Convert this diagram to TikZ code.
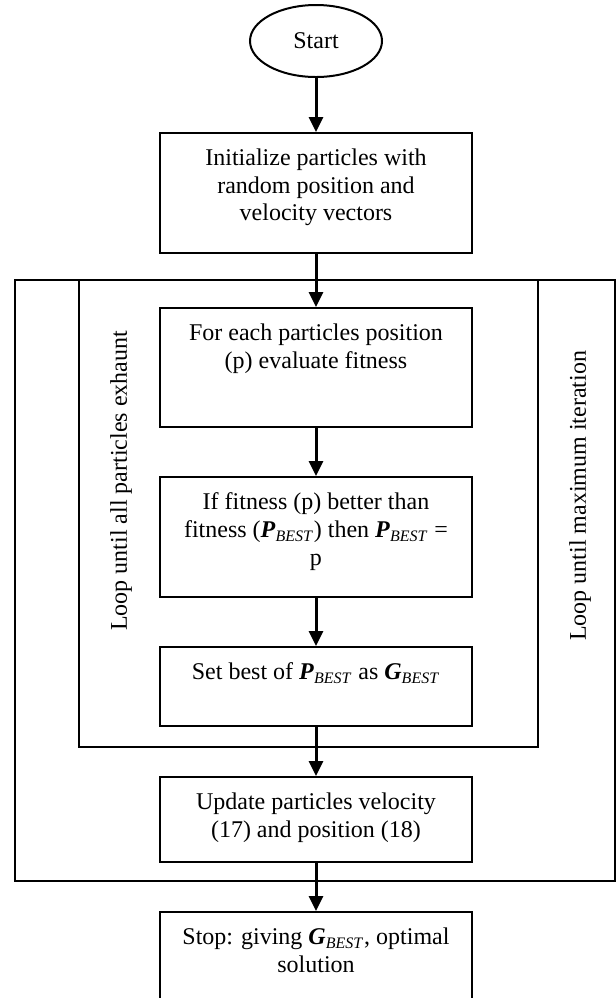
\documentclass[tikz,border=0pt]{standalone}
\usepackage{fontspec}
\setmainfont{Liberation Serif}
\usetikzlibrary{shapes.geometric,arrows.meta}
\newcommand{\pbest}{\textbf{\textit{P}}\textsubscript{\textit{BEST}}}
\newcommand{\gbest}{\textbf{\textit{G}}\textsubscript{\textit{BEST}}}
\newcommand{\contenido}[2]{\begin{minipage}[c][#1][t]{136pt}\centering #2\end{minipage}}
\tikzstyle{bloque} = [draw, line width=1pt, rectangle, inner xsep=10pt, inner ysep=8pt, font=\fontsize{12}{13.8}\selectfont]
\tikzstyle{inicio} = [draw, line width=1pt, ellipse, minimum width=66pt, minimum height=36pt, inner sep=0pt, font=\fontsize{12}{13.8}\selectfont]
\tikzstyle{bucle} = [draw, line width=1pt]
\tikzstyle{rotulo} = [rotate=90, font=\fontsize{12}{13.8}\selectfont]
\tikzstyle{flecha} = [-{Triangle[width=7pt,length=7.5pt]}, line width=1.5pt]

\begin{document}
\begin{tikzpicture}[x=0.5pt, y=-0.5pt]
	\useasboundingbox (0,0) rectangle (616,998);
	\clip (0,0) rectangle (616,998);
	% lazos
	\draw[bucle] (15,280) rectangle (615,881);
	\draw[bucle] (79,280) rectangle (538,747);
	\node[rotulo] (lazo1) at (121,481) {Loop until all particles exhaunt};
	\node[rotulo] (lazo2) at (580,496) {Loop until maximum iteration};
	% pasos
	\node[inicio] (start) at (316,41) {Start};
	\node[bloque] (init) at (316,193) {\contenido{44pt}{Initialize particles with random position and velocity vectors}};
	\node[bloque] (eval) at (316,367.5) {\contenido{43.5pt}{For each particles position (p) evaluate fitness}};
	\node[bloque] (comp) at (316,537) {\contenido{44pt}{If fitness (p) better than fitness (\pbest) then \pbest\ = p}};
	\node[bloque] (mejor) at (316,686.5) {\contenido{23.5pt}{Set best of \pbest\ as \gbest}};
	\node[bloque] (update) at (316,819.5) {\contenido{26.5pt}{Update particles velocity (17) and position (18)}};
	\node[bloque] (stop) at (316,972) {\contenido{44pt}{Stop: giving \gbest, optimal solution}};
	% flechas
	\draw[flecha] (start) -- (init);
	\draw[flecha] (init) -- (eval);
	\draw[flecha] (eval) -- (comp);
	\draw[flecha] (comp) -- (mejor);
	\draw[flecha] (mejor) -- (update);
	\draw[flecha] (update) -- (stop);
\end{tikzpicture}
\end{document}
